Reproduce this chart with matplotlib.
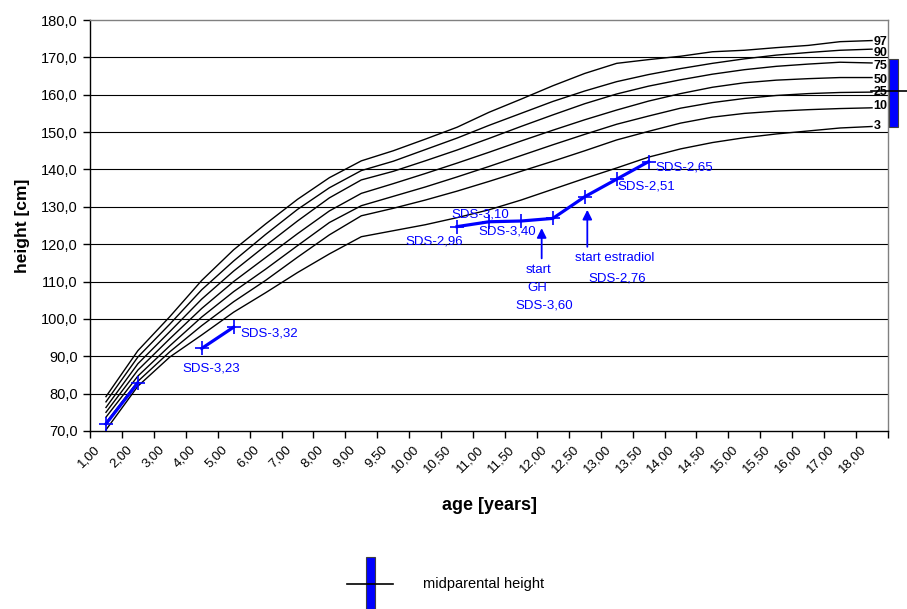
import numpy as np
import matplotlib
matplotlib.use("Agg")
import matplotlib.pyplot as plt
import matplotlib.transforms as mtransforms
from matplotlib.patches import Rectangle
from matplotlib.lines import Line2D

plt.rcParams['font.family'] = ['Liberation Sans', 'DejaVu Sans']

# categories (age in years) as shown on the axis
age_labels = ["1,00", "2,00", "3,00", "4,00", "5,00", "6,00", "7,00", "8,00", "9,00",
              "9,50", "10,00", "10,50", "11,00", "11,50", "12,00", "12,50", "13,00",
              "13,50", "14,00", "14,50", "15,00", "15,50", "16,00", "17,00", "18,00"]

# reference percentile curves (cm)
p97 = [79.2, 91.5, 100.6, 110.3, 118.5, 125.4, 132.0, 137.8, 142.3, 145.0, 148.1, 151.3, 155.3,
       158.8, 162.4, 165.7, 168.4, 169.4, 170.3, 171.5, 171.9, 172.6, 173.2, 174.2, 174.5]
p90 = [77.8, 89.8, 98.6, 107.8, 115.5, 122.6, 129.3, 135.1, 139.7, 142.2, 145.3, 148.4, 151.8,
       155.0, 158.2, 161.0, 163.5, 165.4, 167.0, 168.4, 169.6, 170.6, 171.3, 171.9, 172.2]
p75 = [76.3, 88.0, 96.6, 105.3, 112.8, 119.6, 126.2, 132.4, 137.2, 139.5, 142.3, 145.2, 148.3,
       151.5, 154.6, 157.6, 160.2, 162.3, 164.0, 165.5, 166.7, 167.6, 168.2, 168.7, 168.5]
p50 = [75.0, 86.3, 94.7, 102.8, 110.0, 116.4, 122.8, 128.9, 133.6, 136.2, 138.9, 141.7, 144.6,
       147.6, 150.5, 153.3, 155.9, 158.3, 160.3, 162.0, 163.2, 163.9, 164.3, 164.6, 164.6]
p25 = [73.7, 84.7, 92.8, 100.5, 107.3, 113.3, 119.6, 125.8, 130.3, 132.8, 135.3, 138.0, 140.8,
       143.7, 146.6, 149.4, 152.1, 154.3, 156.4, 157.9, 159.0, 159.8, 160.3, 160.6, 160.7]
p10 = [72.2, 83.3, 91.2, 98.2, 104.6, 110.3, 116.5, 122.5, 127.6, 129.6, 131.8, 134.2, 136.8,
       139.5, 142.2, 145.0, 147.9, 150.2, 152.4, 154.0, 155.0, 155.6, 156.0, 156.3, 156.5]
p3 = [70.3, 82.0, 89.8, 95.7, 101.8, 107.0, 112.4, 117.4, 122.0, 123.6, 125.2, 127.1, 129.2,
      131.8, 134.7, 137.6, 140.4, 143.3, 145.5, 147.2, 148.5, 149.5, 150.3, 151.1, 151.5]
curves = [p97, p90, p75, p50, p25, p10, p3]
curve_names = ["97", "90", "75", "50", "25", "10", "3"]

# patient heights (cm), gaps where not measured
nan = np.nan
patient = [71.9, 82.9, nan, 92.1, 97.8, nan, nan, nan, nan, nan, nan, 124.7, 126.0,
           126.2, 126.9, 132.7, 137.4, 142.1, nan, nan, nan, nan, nan, nan, nan]

# midparental height and target range (cm)
mph = 161.1
mph_low = 151.4
mph_high = 169.5

fig = plt.figure(figsize=(9.07, 6.09), dpi=100)
ax = fig.add_axes([90 / 907, 1 - 431 / 609, 798 / 907, 411 / 609])

x = np.arange(len(age_labels))
for c in curves:
    ax.plot(x, c, color='black', lw=1.0, zorder=3)

ax.plot(x, patient, color='#0000ff', lw=2.3, marker='+', ms=10, mew=1.2, zorder=4)

# percentile names at right end
label_shift = [-1, -3, -2, -2, 0, 1, 0]
for c, name, dy in zip(curves, curve_names, label_shift):
    ax.annotate(name, (x[-1], c[-1]), xytext=(1, dy), textcoords='offset points',
                ha='left', va='center', fontsize=9, fontweight='bold', annotation_clip=False)

ax.set_xlim(-0.5, len(age_labels) - 0.5)
ax.set_ylim(70, 180)
yt = np.arange(70, 181, 10)
ax.set_yticks(yt)
ax.set_yticklabels([f"{v:.1f}".replace('.', ',') for v in yt], fontsize=10.5)
for v in yt[1:-1]:
    ax.axhline(v, color='black', lw=0.8, zorder=1)

ax.set_xticks(x)
ax.set_xticklabels(age_labels, rotation=45, ha='right', va='top', rotation_mode='anchor', fontsize=9.5)
ax.set_xticks(np.arange(len(age_labels) + 1) - 0.5, minor=True)
ax.tick_params(axis='x', which='major', length=0, pad=9)
ax.tick_params(axis='x', which='minor', length=5, width=1, direction='out')
ax.tick_params(axis='y', length=5, width=1, direction='out', pad=4)
shift = mtransforms.ScaledTranslation(-12 / 100, 0, fig.dpi_scale_trans)
for lab in ax.get_xticklabels():
    lab.set_transform(lab.get_transform() + shift)

for s in ['top', 'right']:
    ax.spines[s].set_color('#808080')
    ax.spines[s].set_linewidth(1.0)
for s in ['left', 'bottom']:
    ax.spines[s].set_color('black')
    ax.spines[s].set_linewidth(1.0)

ax.set_ylabel("height [cm]", fontsize=12.5, fontweight='bold', labelpad=8)
ax.set_xlabel("age [years]", fontsize=13, fontweight='bold', labelpad=15.5)

blue = '#0000ff'
fs = 9.5
ax.text(4.2, 96.0, "SDS-3,32", color=blue, fontsize=fs, ha='left', va='center')
ax.text(3.29, 86.6, "SDS-3,23", color=blue, fontsize=fs, ha='center', va='center')
ax.text(10.28, 120.8, "SDS-2,96", color=blue, fontsize=fs, ha='center', va='center')
ax.text(11.73, 128.0, "SDS-3,10", color=blue, fontsize=fs, ha='center', va='center')
ax.text(12.58, 123.3, "SDS-3,40", color=blue, fontsize=fs, ha='center', va='center')
ax.text(13.55, 113.0, "start", color=blue, fontsize=fs, ha='center', va='center')
ax.text(13.5, 108.4, "GH", color=blue, fontsize=fs, ha='center', va='center')
ax.text(13.72, 103.7, "SDS-3,60", color=blue, fontsize=fs, ha='center', va='center')
ax.text(15.95, 116.2, "start estradiol", color=blue, fontsize=fs, ha='center', va='center')
ax.text(16.03, 110.9, "SDS-2,76", color=blue, fontsize=fs, ha='center', va='center')
ax.text(16.03, 135.5, "SDS-2,51", color=blue, fontsize=fs, ha='left', va='center')
ax.text(17.2, 140.4, "SDS-2,65", color=blue, fontsize=fs, ha='left', va='center')

arrow = dict(arrowstyle='-|>', color=blue, lw=1.3, mutation_scale=14, shrinkA=0, shrinkB=0)
ax.annotate("", xy=(13.65, 124.3), xytext=(13.65, 116.2), arrowprops=arrow)
ax.annotate("", xy=(15.08, 129.2), xytext=(15.08, 119.3), arrowprops=arrow)

# midparental height bar at right edge
ax.add_patch(Rectangle((24.54, mph_low), 0.28, mph_high - mph_low, facecolor=blue,
                       edgecolor='#404040', lw=0.8, clip_on=False, zorder=5))
ax.plot([23.96, 25.3], [mph, mph], color='black', lw=1.2, clip_on=False, zorder=6)

# legend
fig.add_artist(Rectangle((366 / 907, 0), 9 / 907, 52 / 609, transform=fig.transFigure,
                         facecolor=blue, edgecolor='#404040', lw=0.8))
fig.add_artist(Line2D([347 / 907, 393 / 907], [25 / 609, 25 / 609], transform=fig.transFigure,
                      color='black', lw=1.2))
fig.text(423 / 907, 25 / 609, "midparental height", fontsize=10.5, ha='left', va='center')

fig.savefig("out.png", dpi=100)
